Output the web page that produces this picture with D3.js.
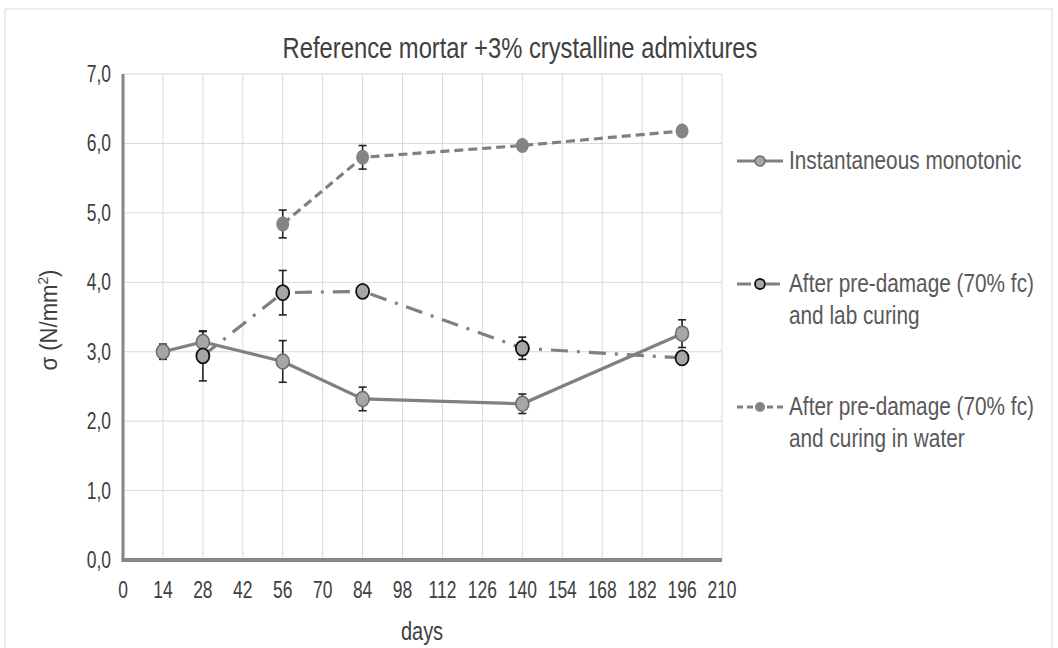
<!DOCTYPE html>
<html lang="en">
  <head>
    <meta charset="UTF-8" />
    <title>Reference mortar +3% crystalline admixtures</title>
    <style>
      body { margin: 0; background: #fff; }
      text { font-family: "Liberation Sans Narrow", "Liberation Sans", Arial, sans-serif; }
    </style>
  </head>
  <body>
    <svg id="svg" width="1058" height="648"></svg>

    <script src="https://cdn.jsdelivr.net/npm/d3@7"></script>
    <script>
      const xTicks = [0, 14, 28, 42, 56, 70, 84, 98, 112, 126, 140, 154, 168, 182, 196, 210];
      const yTicks = [0, 1, 2, 3, 4, 5, 6, 7];

      const seriesNames = [
        "Instantaneous monotonic",
        "After pre-damage (70% fc)|and lab curing",
        "After pre-damage (70% fc)|and curing in water",
      ];

      const instDays = [14, 28, 56, 84, 140, 196];
      const instVals = [3.0, 3.14, 2.86, 2.32, 2.25, 3.26];
      const instErr = [0.11, 0.15, 0.3, 0.17, 0.14, 0.2];

      const labDays = [28, 56, 84, 140, 196];
      const labVals = [2.94, 3.85, 3.87, 3.05, 2.91];
      const labErr = [0.36, 0.32, 0.08, 0.16, 0.03];

      const waterDays = [56, 84, 140, 196];
      const waterVals = [4.84, 5.8, 5.97, 6.18];
      const waterErr = [0.2, 0.17, 0, 0];

      const svg = d3.select("#svg");

      // condensed look: the narrow font is not installed, so squeeze horizontally
      function label(parent, tx, ty, str, size, anchor, sx) {
        return parent.append("text")
          .attr("transform", `translate(${tx},${ty}) scale(${sx},1)`)
          .attr("text-anchor", anchor)
          .attr("font-size", size)
          .attr("fill", "#404040")
          .text(str);
      }

      svg.append("rect")
        .attr("x", 5).attr("y", 9)
        .attr("width", 1047).attr("height", 660)
        .attr("fill", "none").attr("stroke", "#d9d9d9");

      const x = d3.scaleLinear().domain([0, 210]).range([123, 722]);
      const y = d3.scaleLinear().domain([0, 7]).range([560, 74]);

      // grid
      svg.append("g")
        .selectAll("line")
        .data(xTicks.slice(1))
        .enter()
        .append("line")
        .attr("x1", (d) => x(d)).attr("x2", (d) => x(d))
        .attr("y1", y(7)).attr("y2", y(0))
        .attr("stroke", "#d9d9d9").attr("stroke-width", 1);
      svg.append("g")
        .selectAll("line")
        .data(yTicks.slice(1))
        .enter()
        .append("line")
        .attr("x1", x(0)).attr("x2", x(210))
        .attr("y1", (d) => y(d)).attr("y2", (d) => y(d))
        .attr("stroke", "#d9d9d9").attr("stroke-width", 1);

      // axis lines
      svg.append("line")
        .attr("x1", x(0)).attr("x2", x(0))
        .attr("y1", y(7)).attr("y2", y(0))
        .attr("stroke", "#868686").attr("stroke-width", 3);
      svg.append("line")
        .attr("x1", x(0) - 1.5).attr("x2", x(210))
        .attr("y1", y(0)).attr("y2", y(0))
        .attr("stroke", "#868686").attr("stroke-width", 4);

      // tick labels
      const tg = svg.append("g");
      xTicks.forEach((d) => label(tg, x(d), 598, d, 23, "middle", 0.76));
      yTicks.forEach((d) => label(tg, 111, y(d) + 8, d.toFixed(1).replace(".", ","), 23, "end", 0.76));

      // titles
      label(svg, 520, 58, "Reference mortar +3% crystalline admixtures", 29, "middle", 0.82);
      label(svg, 422, 640, "days", 25, "middle", 0.8);
      const yl = svg.append("text")
        .attr("transform", "translate(57,320) rotate(-90) scale(0.92,1)")
        .attr("text-anchor", "middle")
        .attr("font-size", 24)
        .attr("fill", "#404040");
      yl.append("tspan").text("σ (N/mm");
      yl.append("tspan").attr("font-size", 15).attr("dy", -9).text("2");
      yl.append("tspan").attr("dy", 9).text(")");

      const series = [
        { days: instDays, vals: instVals, err: instErr, dash: null, stroke: "#6b6b6b", fill: "#a6a6a6", sw: 1.5 },
        { days: labDays, vals: labVals, err: labErr, dash: "17,9,3,9", stroke: "#111", fill: "#a6a6a6", sw: 1.8 },
        { days: waterDays, vals: waterVals, err: waterErr, dash: "9,5", stroke: "none", fill: "#848484", sw: 0 },
      ];

      const line = d3.line().x((d) => x(d[0])).y((d) => y(d[1]));

      series.forEach((s) => {
        const pts = s.days.map((d, i) => [d, s.vals[i]]);
        svg.append("path")
          .datum(pts)
          .attr("d", line)
          .attr("fill", "none")
          .attr("stroke", "#808080")
          .attr("stroke-width", 3.2)
          .attr("stroke-dasharray", s.dash);
      });

      // error bars
      series.forEach((s) => {
        const pts = s.days.map((d, i) => [d, s.vals[i], s.err[i]]).filter((p) => p[2] > 0);
        const g = svg.append("g").attr("stroke", "#222").attr("stroke-width", 1.6);
        g.selectAll("line.bar").data(pts).enter().append("line")
          .attr("x1", (d) => x(d[0])).attr("x2", (d) => x(d[0]))
          .attr("y1", (d) => y(d[1] + d[2])).attr("y2", (d) => y(d[1] - d[2]));
        g.selectAll("line.top").data(pts).enter().append("line")
          .attr("x1", (d) => x(d[0]) - 4).attr("x2", (d) => x(d[0]) + 4)
          .attr("y1", (d) => y(d[1] + d[2])).attr("y2", (d) => y(d[1] + d[2]));
        g.selectAll("line.bot").data(pts).enter().append("line")
          .attr("x1", (d) => x(d[0]) - 4).attr("x2", (d) => x(d[0]) + 4)
          .attr("y1", (d) => y(d[1] - d[2])).attr("y2", (d) => y(d[1] - d[2]));
      });

      // markers
      series.forEach((s) => {
        const pts = s.days.map((d, i) => [d, s.vals[i]]);
        svg.append("g").selectAll("ellipse").data(pts).enter().append("ellipse")
          .attr("cx", (d) => x(d[0])).attr("cy", (d) => y(d[1]))
          .attr("rx", 6.5).attr("ry", 7.5)
          .attr("fill", s.fill)
          .attr("stroke", s.stroke)
          .attr("stroke-width", s.sw);
      });

      // legend
      const legY = [161, 284, 407];
      series.forEach((s, i) => {
        const g = svg.append("g").attr("transform", `translate(0,${legY[i]})`);
        g.append("line")
          .attr("x1", 737).attr("x2", 783)
          .attr("stroke", "#808080").attr("stroke-width", 3.2)
          .attr("stroke-dasharray", i === 0 ? null : i === 1 ? "14,6,3,6" : "6,4");
        g.append("circle")
          .attr("cx", 760).attr("r", 5)
          .attr("fill", s.fill)
          .attr("stroke", s.stroke)
          .attr("stroke-width", s.sw);
        seriesNames[i].split("|").forEach((t, j) => {
          label(g, 789, 8 + j * 32, t, 26, "start", 0.8).attr("fill", "#595959");
        });
      });
    </script>
  </body>
</html>
